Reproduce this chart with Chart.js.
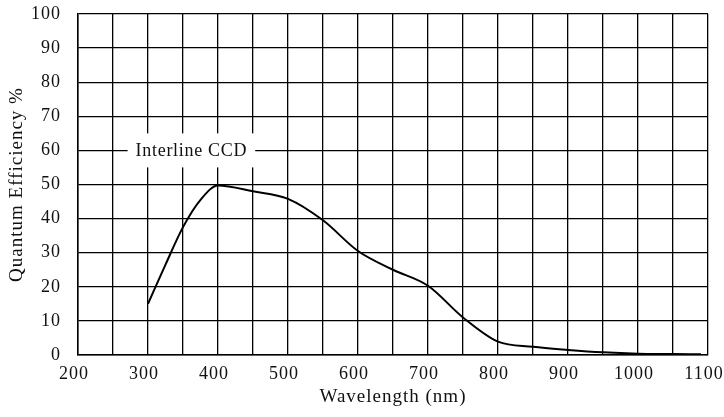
<!DOCTYPE html>
<html>
<head>
<meta charset="utf-8">
<script src="https://cdn.jsdelivr.net/npm/chart.js@4.4.1/dist/chart.umd.min.js"></script>
<style>
    html, body { margin: 0; padding: 0; background: #fff; }
    #wrap { width: 724px; height: 417px; }
</style>
</head>
<body>
<div id="wrap"><canvas id="qeChart"></canvas></div>
<script>
// wavelength (nm) / quantum efficiency (%)
const wavelengths = [300, 325, 350, 375, 400, 450, 500, 550, 600, 650, 700, 750, 800, 850, 900, 950, 1000, 1050, 1090];
const efficiency  = [15, 26.5, 37.5, 45.5, 49.7, 48, 45.8, 39.5, 30.5, 25, 20.3, 11, 3.9, 2.4, 1.5, 0.8, 0.4, 0.3, 0.2];
const xTicks = [200, 300, 400, 500, 600, 700, 800, 900, 1000, 1100];
const seriesLabel = "Interline CCD";
const labelAt = { x: 362, y: 60 };

const FONT = "Liberation Serif";

// the original uses a wide book face, so open up the serif a bit
const spacing = {
    id: "spacing",
    beforeDraw(chart) { chart.ctx.letterSpacing = "1px"; }
};

const curveLabel = {
    id: "curveLabel",
    afterDatasetsDraw(chart) {
        const ctx = chart.ctx;
        const xs = chart.scales.x, ys = chart.scales.y;
        const cx = xs.getPixelForValue(labelAt.x);
        const cy = ys.getPixelForValue(labelAt.y);
        ctx.save();
        ctx.letterSpacing = "0.7px";
        ctx.font = "18px '" + FONT + "'";
        const w = ctx.measureText(seriesLabel).width;
        ctx.fillStyle = "#fff";
        ctx.fillRect(cx - w / 2 - 8, cy - 17, w + 16, 34);
        ctx.fillStyle = "#111";
        ctx.textAlign = "center";
        ctx.textBaseline = "middle";
        ctx.fillText(seriesLabel, cx, cy + 1);
        ctx.restore();
    }
};

new Chart(document.getElementById("qeChart").getContext("2d"), {
    type: "line",
    data: {
        datasets: [{
            label: seriesLabel,
            data: wavelengths.map((w, i) => ({ x: w, y: efficiency[i] })),
            borderColor: "#000",
            borderWidth: 2,
            pointRadius: 0,
            fill: false,
            cubicInterpolationMode: "monotone"
        }]
    },
    options: {
        responsive: true,
        maintainAspectRatio: false,
        animation: false,
        layout: { padding: { left: 0, right: 16, top: 14, bottom: 0 } },
        plugins: {
            legend: { display: false },
            tooltip: { enabled: false }
        },
        scales: {
            x: {
                type: "linear",
                min: 200,
                max: 1100,
                border: { color: "#000", width: 1.5 },
                grid: { color: "#000", lineWidth: 1.3, drawTicks: false },
                ticks: {
                    stepSize: 50,
                    autoSkip: false,
                    maxRotation: 0,
                    padding: 8,
                    color: "#111",
                    font: { family: FONT, size: 18 },
                    // labels in the original sit a little left of their gridline
                    callback: v => xTicks.includes(v) ? v + " \u200A" : ""
                },
                title: {
                    display: true,
                    text: "Wavelength (nm)",
                    color: "#111",
                    font: { family: FONT, size: 19 },
                    padding: { top: 0, bottom: 9 }
                },
                afterFit: s => { s.height = 62; s.paddingLeft = 0; s.paddingRight = 0; }
            },
            y: {
                min: 0,
                max: 100,
                border: { color: "#000", width: 1.5 },
                grid: { color: "#000", lineWidth: 1.3, drawTicks: false },
                ticks: {
                    stepSize: 10,
                    padding: 17,
                    color: "#111",
                    font: { family: FONT, size: 18 }
                },
                title: {
                    display: true,
                    text: "Quantum Efficiency %",
                    color: "#111",
                    font: { family: FONT, size: 19 },
                    padding: { top: 6, bottom: 4 }
                },
                afterFit: s => { s.width = 78; s.paddingTop = 0; s.paddingBottom = 0; }
            }
        }
    },
    plugins: [spacing, curveLabel]
});
</script>
</body>
</html>
